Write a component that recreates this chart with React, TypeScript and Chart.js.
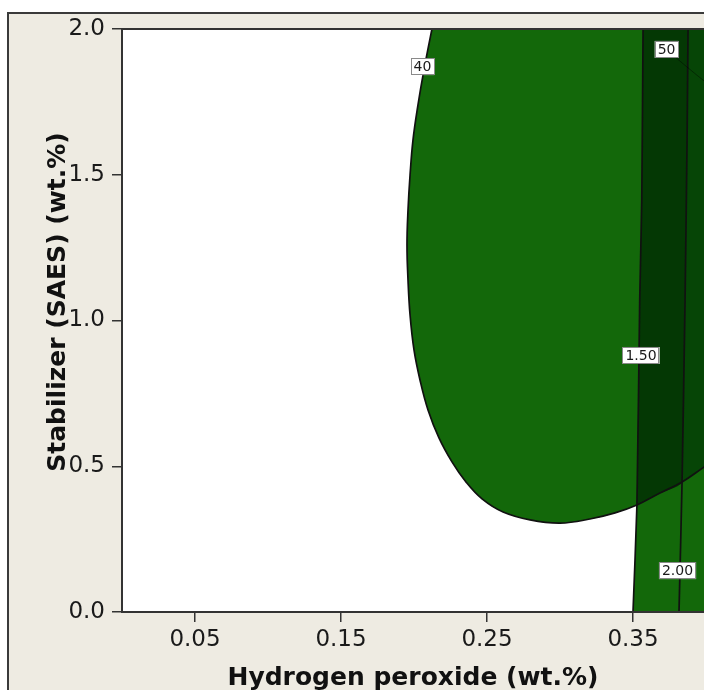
import { useEffect, useRef } from "react";
import { Chart, registerables } from "chart.js";

Chart.register(...registerables);

// ---- axis ticks ----
const xTickValues = [0.05, 0.15, 0.25, 0.35];
const yTickValues = [0.0, 0.5, 1.0, 1.5, 2.0];
const X_MIN = 0;
const X_MAX = 0.4;
const Y_MIN = 0;
const Y_MAX = 2.0;

// ---- contour "40" (closed outline of the large green region) ----
const contour40X = [0.2315, 0.2178, 0.2123, 0.2068, 0.2027, 0.1993, 0.1973, 0.1959, 0.1952, 0.1959, 0.1973, 0.2, 0.2041, 0.2096, 0.2171, 0.226, 0.2356, 0.2466, 0.261, 0.2795, 0.3, 0.3205, 0.3377, 0.3527, 0.3685, 0.3836, 0.3986, 0.4137, 0.437, 0.4575, 0.4575, 0.396];
const contour40Y = [2.24, 2.134, 2.0, 1.859, 1.739, 1.619, 1.499, 1.379, 1.259, 1.139, 1.019, 0.899, 0.796, 0.693, 0.597, 0.515, 0.446, 0.388, 0.343, 0.316, 0.305, 0.319, 0.34, 0.367, 0.408, 0.446, 0.497, 0.549, 0.727, 1.242, 2.1, 2.24];

// ---- contour "1.50" ----
const line150X = [0.3498, 0.35, 0.3527, 0.3546, 0.3560, 0.3569, 0.3571];
const line150Y = [-0.05, 0.0, 0.367, 1.07, 1.41, 2.0, 2.05];

// ---- contour "2.00" ----
const line200X = [0.3812, 0.3815, 0.3836, 0.3856, 0.387, 0.3877, 0.3878];
const line200Y = [-0.05, 0.0, 0.446, 1.05, 1.6, 2.0, 2.05];

// ---- contour "50" ----
const contour50X = [0.373, 0.3788, 0.3979, 0.41];
const contour50Y = [1.93, 1.904, 1.825, 1.78];

// ---- contour labels ----
const labelTexts = ["40", "50", "1.50", "2.00"];
const labelX = [0.2058, 0.373, 0.3555, 0.3805];
const labelY = [1.871, 1.93, 0.88, 0.142];

// ---- colours ----
const GREEN = "#13680a";
const DARK_A = "#043804";
const DARK_B = "#064506";
const BEIGE = "#eeebe2";

type P = { x: number; y: number };
const pts = (xs: number[], ys: number[]): P[] => xs.map((x, i) => ({ x, y: ys[i] }));

function buildConfig(): any {
  const ellipse = pts(contour40X, contour40Y);
  const l150 = pts(line150X, line150Y);
  const l200 = pts(line200X, line200Y);
  const c50 = pts(contour50X, contour50Y);
  // lower-right part of the "40" outline, from where it meets the 1.50 contour
  const startIdx = ellipse.findIndex((p) => p.x >= 0.3527 && p.y < 1);
  const arc = ellipse.slice(startIdx);

  const strip: P[] = [...l150, { x: X_MAX + 0.05, y: Y_MAX + 0.05 }, { x: X_MAX + 0.05, y: Y_MIN - 0.05 }];
  const darkA: P[] = [
    arc[0],
    ...l150.filter((p) => p.y > 0.4),
    ...l200.filter((p) => p.y > 0.44).reverse(),
    ...arc.filter((p) => p.x > 0.355 && p.x < 0.383).reverse(),
  ];
  const darkB: P[] = [
    ...arc.filter((p) => p.x >= 0.3836),
    ...l200.filter((p) => p.y > 0.44).reverse(),
  ];

  const base = { showLine: true, pointRadius: 0, pointHoverRadius: 0 };
  const fillDs = (data: P[], color: string, order: number, tension = 0) => ({
    ...base,
    data,
    fill: "shape",
    backgroundColor: color,
    borderColor: "rgba(0,0,0,0)",
    borderWidth: 0,
    tension,
    order,
  });
  const lineDs = (data: P[], color: string, width: number, order: number, tension = 0) => ({
    ...base,
    data,
    fill: false,
    borderColor: color,
    borderWidth: width,
    tension,
    order,
  });

  const datasets = [
    fillDs(strip, GREEN, 20),
    fillDs(ellipse, GREEN, 19, 0.4),
    fillDs(darkA, DARK_A, 18, 0.2),
    fillDs(darkB, DARK_B, 17, 0.2),
    lineDs(ellipse, "#111", 1.7, 10, 0.4),
    lineDs(l150, "#111", 1.7, 9, 0.2),
    lineDs(l200, "#111", 1.7, 8, 0.2),
    lineDs(c50, "rgba(0,0,0,0.4)", 1, 7, 0.3),
  ];

  const bgPlugin = {
    id: "bg",
    beforeDraw(chart: any) {
      const ctx = chart.ctx;
      ctx.save();
      ctx.fillStyle = "#ffffff";
      ctx.fillRect(0, 0, chart.width, chart.height);
      ctx.fillStyle = BEIGE;
      ctx.fillRect(8, 13, chart.width, chart.height);
      ctx.strokeStyle = "#3a3a3a";
      ctx.lineWidth = 2;
      ctx.beginPath();
      ctx.moveTo(8, chart.height);
      ctx.lineTo(8, 13);
      ctx.lineTo(chart.width, 13);
      ctx.stroke();
      const a = chart.chartArea;
      ctx.fillStyle = "#ffffff";
      ctx.fillRect(a.left, a.top, a.right - a.left, a.bottom - a.top);
      ctx.restore();
    },
  };

  const overlayPlugin = {
    id: "overlay",
    afterDatasetsDraw(chart: any) {
      const ctx = chart.ctx;
      const a = chart.chartArea;
      const xs = chart.scales.x;
      const ys = chart.scales.y;
      ctx.save();
      // frame
      ctx.strokeStyle = "#333";
      ctx.lineWidth = 2;
      ctx.beginPath();
      ctx.moveTo(chart.width, a.top);
      ctx.lineTo(a.left, a.top);
      ctx.lineTo(a.left, a.bottom);
      ctx.lineTo(chart.width, a.bottom);
      ctx.stroke();
      // contour labels
      ctx.font = '14px "DejaVu Sans"';
      ctx.textAlign = "center";
      ctx.textBaseline = "middle";
      labelTexts.forEach((t, i) => {
        const px = xs.getPixelForValue(labelX[i]);
        const py = ys.getPixelForValue(labelY[i]);
        const w = ctx.measureText(t).width + 6;
        const h = 17;
        ctx.fillStyle = "#ffffff";
        ctx.fillRect(px - w / 2, py - h / 2, w, h);
        ctx.strokeStyle = "#8a8a8a";
        ctx.lineWidth = 1;
        ctx.strokeRect(Math.round(px - w / 2) + 0.5, Math.round(py - h / 2) + 0.5, Math.round(w) - 1, h - 1);
        ctx.fillStyle = "#1a1a1a";
        ctx.fillText(t, px, py + 1);
      });
      ctx.restore();
    },
    afterDraw(chart: any) {
      const ctx = chart.ctx;
      ctx.save();
      ctx.fillStyle = "#111";
      ctx.font = 'bold 25px "DejaVu Sans"';
      ctx.textAlign = "center";
      ctx.textBaseline = "alphabetic";
      ctx.fillText("Hydrogen peroxide (wt.%)", 413, 685);
      ctx.translate(65, 302);
      ctx.rotate(-Math.PI / 2);
      ctx.fillText("Stabilizer (SAES) (wt.%)", 0, 0);
      ctx.restore();
    },
  };

  const tickFont = { family: '"DejaVu Sans"', size: 23 };

  return {
    type: "scatter",
    data: { datasets },
    options: {
      animation: false,
      responsive: false,
      devicePixelRatio: 1,
      events: [],
      layout: { padding: { top: 29, right: 14, left: 0, bottom: 0 } },
      elements: { line: { capBezierPoints: false }, point: { radius: 0 } },
      plugins: { legend: { display: false }, tooltip: { enabled: false }, title: { display: false } },
      scales: {
        x: {
          type: "linear",
          min: X_MIN,
          max: X_MAX,
          afterBuildTicks: (s: any) => {
            s.ticks = xTickValues.map((v) => ({ value: v }));
          },
          afterFit: (s: any) => {
            s.height = 78;
          },
          grid: { drawOnChartArea: false, drawTicks: true, tickLength: 10, color: "#333", lineWidth: 1.5 },
          border: { display: true, color: "#333", width: 2 },
          ticks: {
            font: tickFont,
            color: "#1a1a1a",
            padding: 4,
            maxRotation: 0,
            autoSkip: false,
            callback: (v: any) => Number(v).toFixed(2),
          },
        },
        y: {
          type: "linear",
          min: Y_MIN,
          max: Y_MAX,
          afterBuildTicks: (s: any) => {
            s.ticks = yTickValues.map((v) => ({ value: v }));
          },
          afterFit: (s: any) => {
            s.width = 122;
          },
          grid: { drawOnChartArea: false, drawTicks: true, tickLength: 10, color: "#333", lineWidth: 1.5 },
          border: { display: true, color: "#333", width: 2 },
          ticks: {
            font: tickFont,
            color: "#1a1a1a",
            padding: 7,
            autoSkip: false,
            callback: (v: any) => Number(v).toFixed(1),
          },
        },
      },
    },
    plugins: [bgPlugin, overlayPlugin],
  };
}

export default function App() {
  const ref = useRef<HTMLCanvasElement>(null);
  useEffect(() => {
    const chart = new Chart(ref.current as HTMLCanvasElement, buildConfig());
    return () => chart.destroy();
  }, []);
  return (
    <div
      style={{
        position: "fixed",
        left: 0,
        top: 0,
        width: 704,
        height: 690,
        overflow: "hidden",
        background: "#ffffff",
      }}
    >
      <canvas ref={ref} width={720} height={690} style={{ display: "block", width: 720, height: 690 }} />
    </div>
  );
}
